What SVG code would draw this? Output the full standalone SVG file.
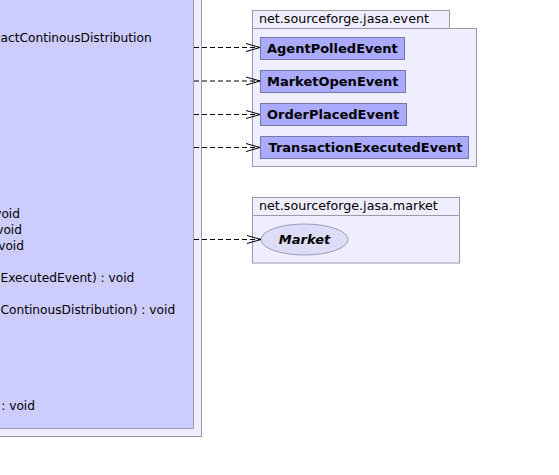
<svg xmlns="http://www.w3.org/2000/svg" width="559" height="475" viewBox="0 0 559 475">
<style>
.pkg{fill:#eeeeff;stroke:#9a9aaa;stroke-width:1}
.cls{fill:#ccccff;stroke:#9a9aaa;stroke-width:1}
.ev{fill:#aaaaff;stroke:#7777aa;stroke-width:1}
.t{font-family:"DejaVu Sans",sans-serif;font-size:12.7px;fill:#000}
.m{font-family:"DejaVu Sans",sans-serif;font-size:12.2px;fill:#000}
.b{font-family:"DejaVu Sans",sans-serif;font-size:13px;font-weight:bold;fill:#000}
.dep{fill:none;stroke:#000;stroke-width:1;stroke-dasharray:5,3}
</style>
<defs>
<marker id="open" markerUnits="userSpaceOnUse" markerWidth="16" markerHeight="12" refX="15" refY="6" orient="auto">
<path d="M1,2 L15,6 L1,10" fill="none" stroke="#000" stroke-width="1"/>
</marker>
</defs>
<rect width="559" height="475" fill="#ffffff"/>
<g id="main-package">
<rect class="pkg" x="-10" y="-10" width="211.5" height="446.5" fill="#f2f2ff"/>
</g>
<g id="main-class">
<rect class="cls" x="-10" y="-10" width="203.5" height="438.5"/>
<text class="m" x="0.5" y="41.5">actContinousDistribution</text>
<text class="m" x="20" y="217.5" text-anchor="end">void</text>
<text class="m" x="22" y="233.5" text-anchor="end">void</text>
<text class="m" x="24" y="249.5" text-anchor="end">void</text>
<text class="m" x="0.5" y="281.5">ExecutedEvent) : void</text>
<text class="m" x="0.5" y="313.5">ContinousDistribution) : void</text>
<text class="m" x="35" y="409.5" text-anchor="end">: void</text>
</g>
<g id="pkg-event">
<rect class="pkg" x="252.5" y="10.5" width="197" height="18"/>
<rect class="pkg" x="252.5" y="28.5" width="224" height="138"/>
<text class="t" x="259" y="23">net.sourceforge.jasa.event</text>
</g>
<g id="AgentPolledEvent">
<rect class="ev" x="260.5" y="37.5" width="144" height="22"/>
<text class="b" x="267" y="53">AgentPolledEvent</text>
</g>
<g id="MarketOpenEvent">
<rect class="ev" x="260.5" y="70.5" width="145" height="22"/>
<text class="b" x="267" y="86">MarketOpenEvent</text>
</g>
<g id="OrderPlacedEvent">
<rect class="ev" x="260.5" y="103.5" width="146" height="22"/>
<text class="b" x="267" y="119">OrderPlacedEvent</text>
</g>
<g id="TransactionExecutedEvent">
<rect class="ev" x="260.5" y="136.5" width="208" height="22"/>
<text class="b" x="268.5" y="152">TransactionExecutedEvent</text>
</g>
<g id="pkg-market">
<rect class="pkg" x="252.5" y="197.5" width="207" height="18"/>
<rect class="pkg" x="252.5" y="215.5" width="207" height="47.5"/>
<text class="t" x="259" y="210">net.sourceforge.jasa.market</text>
</g>
<g id="Market">
<ellipse cx="304.5" cy="239.5" rx="43.5" ry="15.5" fill="#ddddf8" stroke="#9a9aba" stroke-width="1"/>
<text class="b" x="304.5" y="244" text-anchor="middle" font-style="italic">Market</text>
</g>
<g id="connectors">
<line class="dep" x1="194" y1="47.5" x2="260" y2="47.5" marker-end="url(#open)"/>
<line class="dep" x1="194" y1="81" x2="260" y2="81" marker-end="url(#open)"/>
<line class="dep" x1="194" y1="114.5" x2="260" y2="114.5" marker-end="url(#open)"/>
<line class="dep" x1="194" y1="147.5" x2="260" y2="147.5" marker-end="url(#open)"/>
<line class="dep" x1="194" y1="239.5" x2="261" y2="239.5" marker-end="url(#open)"/>
</g>
</svg>
